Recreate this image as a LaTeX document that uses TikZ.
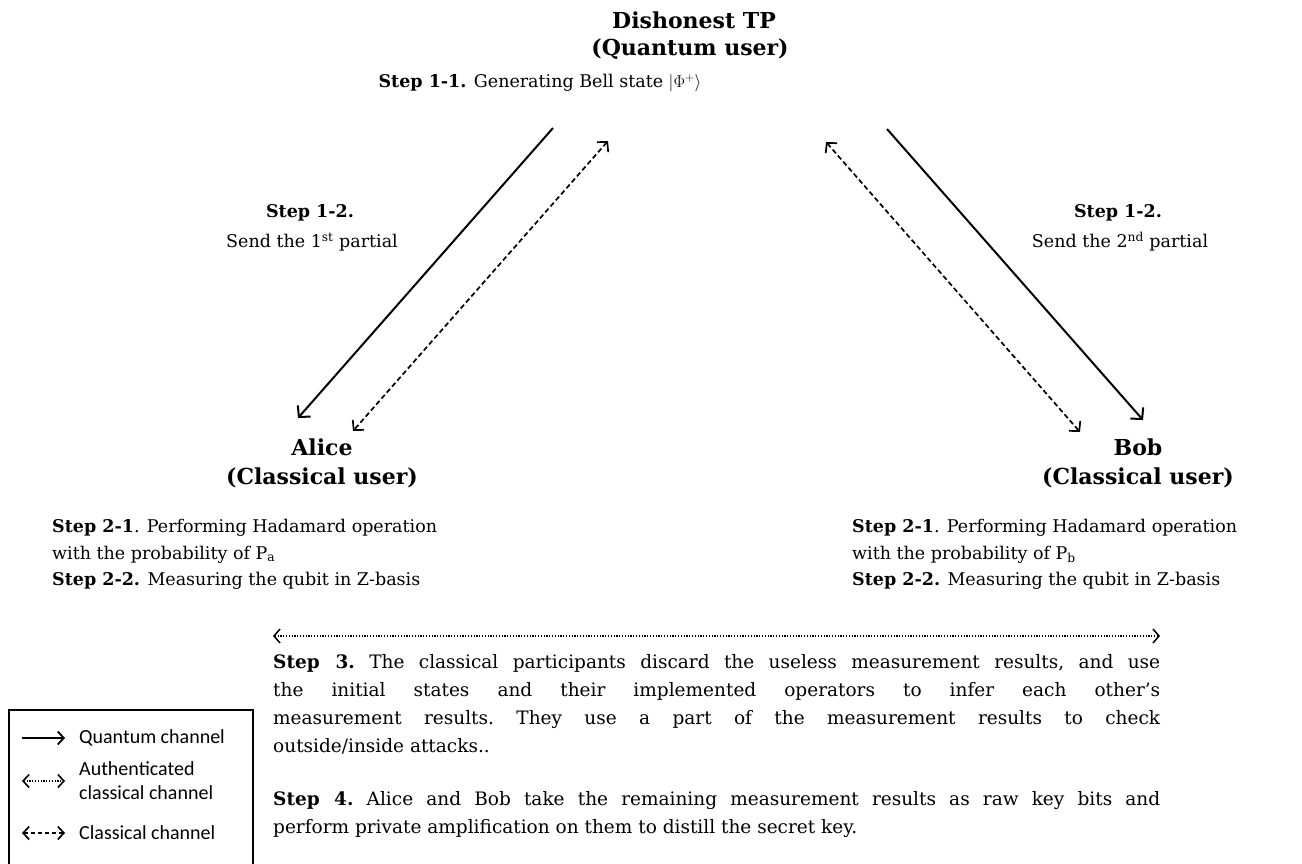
\documentclass[tikz,border=0pt]{standalone}
\usepackage{fontspec}
\setmainfont{DejaVu Serif}
\newfontfamily\legfont{Carlito}
\usetikzlibrary{arrows.meta}
\tikzset{
  head/.style={font=\fontsize{22}{24}\selectfont\bfseries, inner sep=0pt},
  body/.style={font=\fontsize{17.5}{26.5}\selectfont, inner sep=0pt},
  para/.style={font=\fontsize{18.5}{28}\selectfont\frenchspacing, inner sep=0pt, text width=887pt, align=justify, anchor=north west},
  leg/.style={font=\legfont\fontsize{20}{24}\selectfont, inner sep=0pt, anchor=west, align=left},
  quantum/.style={line width=2pt, -{Straight Barb[length=8pt,width=17pt]}},
  classical/.style={line width=1.7pt, dash pattern=on 5pt off 3pt, {Straight Barb[length=7pt,width=15pt]}-{Straight Barb[length=7pt,width=15pt]}},
  authc/.style={line width=1.5pt, dash pattern=on 1.2pt off 1.6pt, {Straight Barb[length=6pt,width=14pt]}-{Straight Barb[length=6pt,width=14pt]}},
}
\begin{document}
\begin{tikzpicture}[x=1pt,y=-1pt]
\useasboundingbox[fill=white] (0,0) rectangle (1302,863);

% top party
\node[head] (tp1) at (694,20) {Dishonest TP};
\node[head] (tp2) at (690,49) {(Quantum user)};
\node[body] (s11) at (540,83) {\textbf{Step 1-1.} Generating Bell state $\Bigl|\Phi^{+}\Bigr\rangle$};

% Alice
\node[head] (al1) at (322,447) {Alice};
\node[head] (al2) at (322,478) {(Classical user)};
\node[body, anchor=north west, align=left] (als) at (52,519) {\textbf{Step 2-1}. Performing Hadamard operation\\with the probability of P\textsubscript{a}\\\textbf{Step 2-2.} Measuring the qubit in Z-basis};

% Bob
\node[head] (bo1) at (1138,447) {Bob};
\node[head] (bo2) at (1138,478) {(Classical user)};
\node[body, anchor=north west, align=left] (bos) at (852,519) {\textbf{Step 2-1}. Performing Hadamard operation\\with the probability of P\textsubscript{b}\\\textbf{Step 2-2.} Measuring the qubit in Z-basis};

% Step 1-2 labels
\node[body] (l12a) at (310,213) {\textbf{Step 1-2.}};
\node[body] (l12b) at (312,242) {Send the 1\textsuperscript{st} partial};
\node[body] (r12a) at (1118,213) {\textbf{Step 1-2.}};
\node[body] (r12b) at (1120,242) {Send the 2\textsuperscript{nd} partial};

% channels between TP and users
\coordinate (q1s) at (553,128); \coordinate (q1e) at (298,418);
\coordinate (c1a) at (608,141); \coordinate (c1b) at (353,431);
\coordinate (q2s) at (887,129); \coordinate (q2e) at (1143,420);
\coordinate (c2a) at (826,142); \coordinate (c2b) at (1080,432);
\draw[quantum] (q1s) -- (q1e);
\draw[classical] (c1a) -- (c1b);
\draw[quantum] (q2s) -- (q2e);
\draw[classical] (c2a) -- (c2b);

% authenticated channel between Alice and Bob
\coordinate (aa) at (273,636); \coordinate (bb) at (1160,636);
\draw[authc] (aa) -- (bb);

% steps 3 and 4
\node[para] (s3) at (273,654) {\textbf{Step 3.} The classical participants discard the useless measurement results, and use\linebreak the initial states and their implemented operators to infer each other's\linebreak measurement results. They use a part of the measurement results to check\linebreak outside/inside attacks..};
\node[para] (s4) at (273,791) {\textbf{Step 4.} Alice and Bob take the remaining measurement results as raw key bits and\linebreak perform private amplification on them to distill the secret key.};

% legend
\node[draw, line width=2pt, minimum width=244pt, minimum height=161pt, anchor=north west, inner sep=0pt] (legbox) at (8,709) {};
\coordinate (l1a) at (22,738); \coordinate (l1b) at (65,738);
\coordinate (l2a) at (22,781); \coordinate (l2b) at (65,781);
\coordinate (l3a) at (22,833); \coordinate (l3b) at (65,833);
\draw[quantum, line width=1.8pt, -{Straight Barb[length=6pt,width=13pt]}] (l1a) -- (l1b);
\draw[authc, line width=1.6pt, {Straight Barb[length=6pt,width=13pt]}-{Straight Barb[length=6pt,width=13pt]}] (l2a) -- (l2b);
\draw[classical, line width=1.7pt, dash pattern=on 4pt off 3pt, {Straight Barb[length=6pt,width=13pt]}-{Straight Barb[length=6pt,width=13pt]}] (l3a) -- (l3b);
\node[leg] (t1) at (79,738) {Quantum channel};
\node[leg] (t2) at (79,781) {Authenticated\\classical channel};
\node[leg] (t3) at (79,833) {Classical channel};
\end{tikzpicture}
\end{document}
